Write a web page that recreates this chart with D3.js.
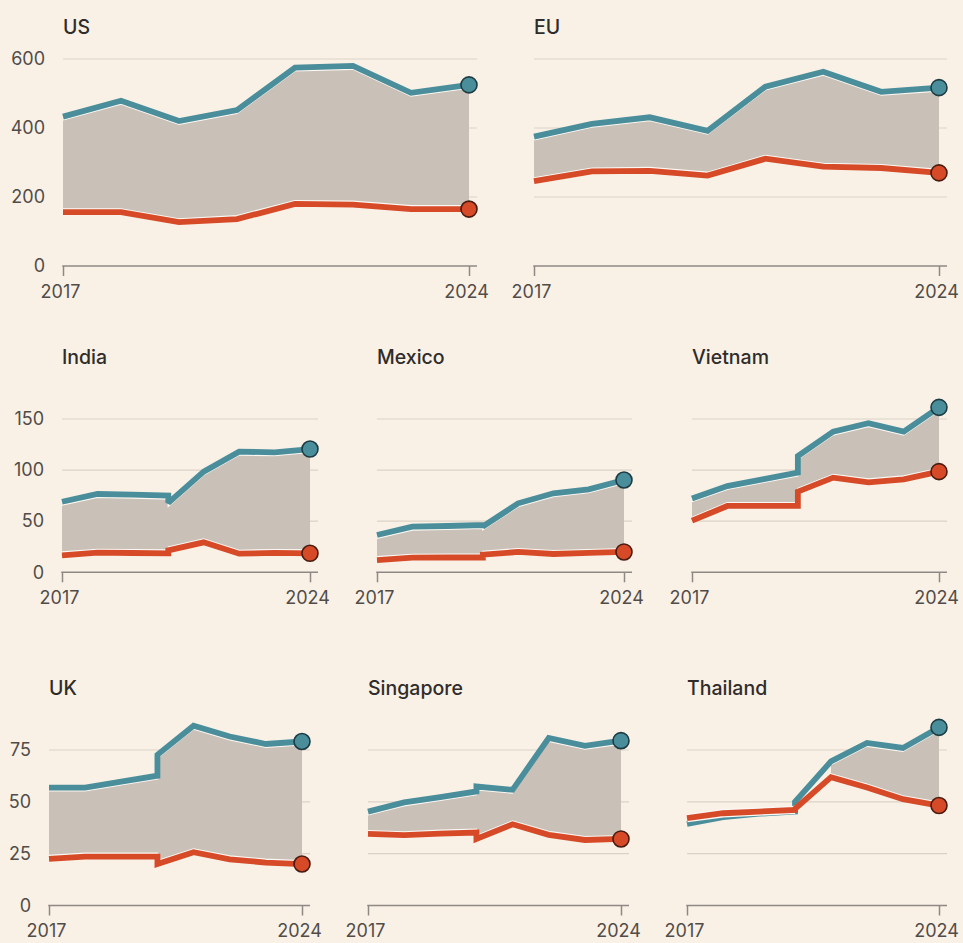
<!DOCTYPE html>
<html>
<head>
<meta charset="utf-8">
<script src="https://cdn.jsdelivr.net/npm/d3@7/dist/d3.min.js"></script>
<style>
  html, body { margin: 0; padding: 0; background: #f9f1e6; }
  svg { display: block; }
  text { font-family: Inter, "Noto Sans", sans-serif; }
</style>
</head>
<body>
<svg id="chart" width="963" height="943"></svg>
<script>
// ---------- DATA ----------
// x positions: 2020 appears twice (series break: old / new basis)
const years = [2017, 2018, 2019, 2020, 2020, 2021, 2022, 2023, 2024];
const xTickLabels = [2017, 2024];

const countries = ["US", "EU", "India", "Mexico", "Vietnam", "UK", "Singapore", "Thailand"];

// blue series (upper line) and red series (lower line)
const blueUS        = [433, 479, 420, 452, 452, 575, 580, 502, 525];
const redUS         = [156, 156, 127, 136, 136, 180, 178, 165, 165];
const blueEU        = [375, 412, 431, 392, 392, 520, 563, 505, 517];
const redEU         = [246, 274, 276, 262, 262, 311, 288, 284, 270];
const blueIndia     = [69, 76.6, 76, 75, 68, 98.5, 118, 117.4, 120.6];
const redIndia      = [16.6, 19.2, 18.9, 18.6, 21.5, 29.3, 18.2, 19, 18.6];
const blueMexico    = [36.5, 44.6, 45.3, 46.3, 44.8, 67.5, 77.3, 81.2, 90.3];
const redMexico     = [12, 14.3, 14.5, 14.5, 17.2, 19.9, 17.9, 19, 19.9];
const blueVietnam   = [72.3, 84.4, 91, 97.5, 113.8, 137.6, 145.8, 137.6, 161.4];
const redVietnam    = [50.5, 64.9, 64.9, 64.9, 78.9, 92.6, 88, 91, 98.5];
const blueUK        = [56.9, 56.9, 59.8, 62.6, 72.7, 86.7, 81.5, 77.9, 79.1];
const redUK         = [22.5, 23.6, 23.6, 23.6, 20, 25.7, 22.3, 20.7, 20];
const blueSingapore = [45.3, 49.7, 52.3, 55, 57.4, 55.8, 80.8, 77, 79.5];
const redSingapore  = [34.5, 33.9, 34.7, 35.2, 32.1, 39.2, 34.1, 31.6, 32.1];
const blueThailand  = [39.4, 42.6, 44.3, 45.3, 50, 69.5, 78.4, 76, 85.9];
const redThailand   = [42.1, 44.5, 45.3, 46.1, 46.6, 61.9, 56.9, 51.3, 48.2];

const yTicksRow1 = [0, 200, 400, 600];
const yTicksRow2 = [0, 50, 100, 150];
const yTicksRow3 = [0, 25, 50, 75];

const seriesBlue = [blueUS, blueEU, blueIndia, blueMexico, blueVietnam, blueUK, blueSingapore, blueThailand];
const seriesRed  = [redUS, redEU, redIndia, redMexico, redVietnam, redUK, redSingapore, redThailand];

// ---------- LAYOUT ----------
const rows = [
  { ticks: yTicksRow1, y0: 266,   y1: 59,  titleY: 34 },
  { ticks: yTicksRow2, y0: 572.3, y1: 419, titleY: 364 },
  { ticks: yTicksRow3, y0: 905.5, y1: 750, titleY: 695 }
];
const panels = [
  { row: 0, x0: 63,  x1: 469, labels: true },
  { row: 0, x0: 534, x1: 939, labels: false },
  { row: 1, x0: 62,  x1: 310, labels: true },
  { row: 1, x0: 377, x1: 624, labels: false },
  { row: 1, x0: 692, x1: 939, labels: false },
  { row: 2, x0: 49,  x1: 302, labels: true },
  { row: 2, x0: 368, x1: 621, labels: false },
  { row: 2, x0: 687, x1: 939, labels: false }
];

const C = {
  blue: "#4b8e9b", red: "#d64a28", area: "#c9c0b7",
  grid: "#dbd2c7", axis: "#8e8984", text: "#514c49", title: "#2f2c2a",
  blueDot: "#1d3b42", redDot: "#4a1c10"
};
const LW = 5.8, INSET = 3.3;

const svg = d3.select("#chart");

countries.forEach((name, i) => {
  const p = panels[i];
  const r = rows[p.row];
  const top = r.ticks[r.ticks.length - 1];
  const x = d3.scaleLinear().domain([2017, 2024]).range([p.x0, p.x1]);
  const y = d3.scaleLinear().domain([0, top]).range([r.y0, r.y1]);
  const gridRight = p.x1 + 8;
  const data = years.map((yr, k) => ({ yr, b: seriesBlue[i][k], r: seriesRed[i][k] }));

  const g = svg.append("g");

  // gridlines
  g.selectAll("line.grid").data(r.ticks.filter(t => t > 0)).join("line")
    .attr("x1", p.x0).attr("x2", gridRight)
    .attr("y1", d => y(d)).attr("y2", d => y(d))
    .attr("stroke", C.grid).attr("stroke-width", 1.2);

  // title
  g.append("text").attr("x", p.x0).attr("y", r.titleY)
    .attr("font-size", 19.5).attr("font-weight", 500).attr("fill", C.title)
    .text(name);

  // y labels
  if (p.labels) {
    const ya = d3.axisLeft(y).tickValues(r.ticks).tickSize(0).tickPadding(18).tickFormat(d3.format("d"));
    const yg = g.append("g").attr("transform", `translate(${p.x0},0)`).call(ya);
    yg.select(".domain").remove();
    yg.selectAll("text").attr("font-size", 18).attr("fill", C.text)
      .attr("font-family", "Inter, 'Noto Sans', sans-serif");
  }

  // x axis
  const xa = d3.axisBottom(x).tickValues(xTickLabels).tickSize(10).tickSizeOuter(0)
    .tickPadding(9).tickFormat(d3.format("d"));
  const xg = g.append("g").attr("transform", `translate(0,${y(0)})`).call(xa);
  xg.select(".domain").remove();
  xg.selectAll(".tick line").attr("stroke", C.axis).attr("stroke-width", 1.5);
  xg.selectAll("text").attr("font-size", 18).attr("fill", C.text).attr("dx", -3)
    .attr("font-family", "Inter, 'Noto Sans', sans-serif");
  g.append("line").attr("x1", p.x0 - 0.75).attr("x2", gridRight)
    .attr("y1", y(0)).attr("y2", y(0))
    .attr("stroke", C.axis).attr("stroke-width", 1.5);

  // area between lines (only where the blue line sits clearly above the red one)
  const gapOk = d => y(d.r) - y(d.b) > 8;
  const area = d3.area().defined(gapOk)
    .x(d => x(d.yr)).y0(d => y(d.r) - INSET).y1(d => y(d.b) + INSET);
  g.append("path").datum(data).attr("d", area).attr("fill", C.area);
  const edgeTop = d3.line().defined(gapOk).x(d => x(d.yr)).y(d => y(d.b) + INSET);
  const edgeBot = d3.line().defined(gapOk).x(d => x(d.yr)).y(d => y(d.r) - INSET);
  [edgeTop, edgeBot].forEach(fn => g.append("path").datum(data).attr("d", fn)
    .attr("fill", "none").attr("stroke", "#fbf7f2").attr("stroke-width", 1.4));

  // lines
  const lineB = d3.line().x(d => x(d.yr)).y(d => y(d.b));
  const lineR = d3.line().x(d => x(d.yr)).y(d => y(d.r));
  g.append("path").datum(data).attr("d", lineB).attr("fill", "none")
    .attr("stroke", C.blue).attr("stroke-width", LW)
    .attr("stroke-linejoin", "miter").attr("stroke-miterlimit", 2);
  // white casing where red sits on top of blue
  const casing = d3.line().defined(d => d.r >= d.b).x(d => x(d.yr)).y(d => y(d.r));
  g.append("path").datum(data).attr("d", casing).attr("fill", "none")
    .attr("stroke", "#fbf7f2").attr("stroke-width", LW + 2.6)
    .attr("stroke-linejoin", "miter").attr("stroke-miterlimit", 2);
  g.append("path").datum(data).attr("d", lineR).attr("fill", "none")
    .attr("stroke", C.red).attr("stroke-width", LW)
    .attr("stroke-linejoin", "miter").attr("stroke-miterlimit", 2);

  // end dots
  const last = data[data.length - 1];
  g.append("circle").attr("cx", x(last.yr)).attr("cy", y(last.b)).attr("r", 8)
    .attr("fill", C.blue).attr("stroke", C.blueDot).attr("stroke-width", 1.6);
  g.append("circle").attr("cx", x(last.yr)).attr("cy", y(last.r)).attr("r", 8)
    .attr("fill", C.red).attr("stroke", C.redDot).attr("stroke-width", 1.6);
});
</script>
</body>
</html>
